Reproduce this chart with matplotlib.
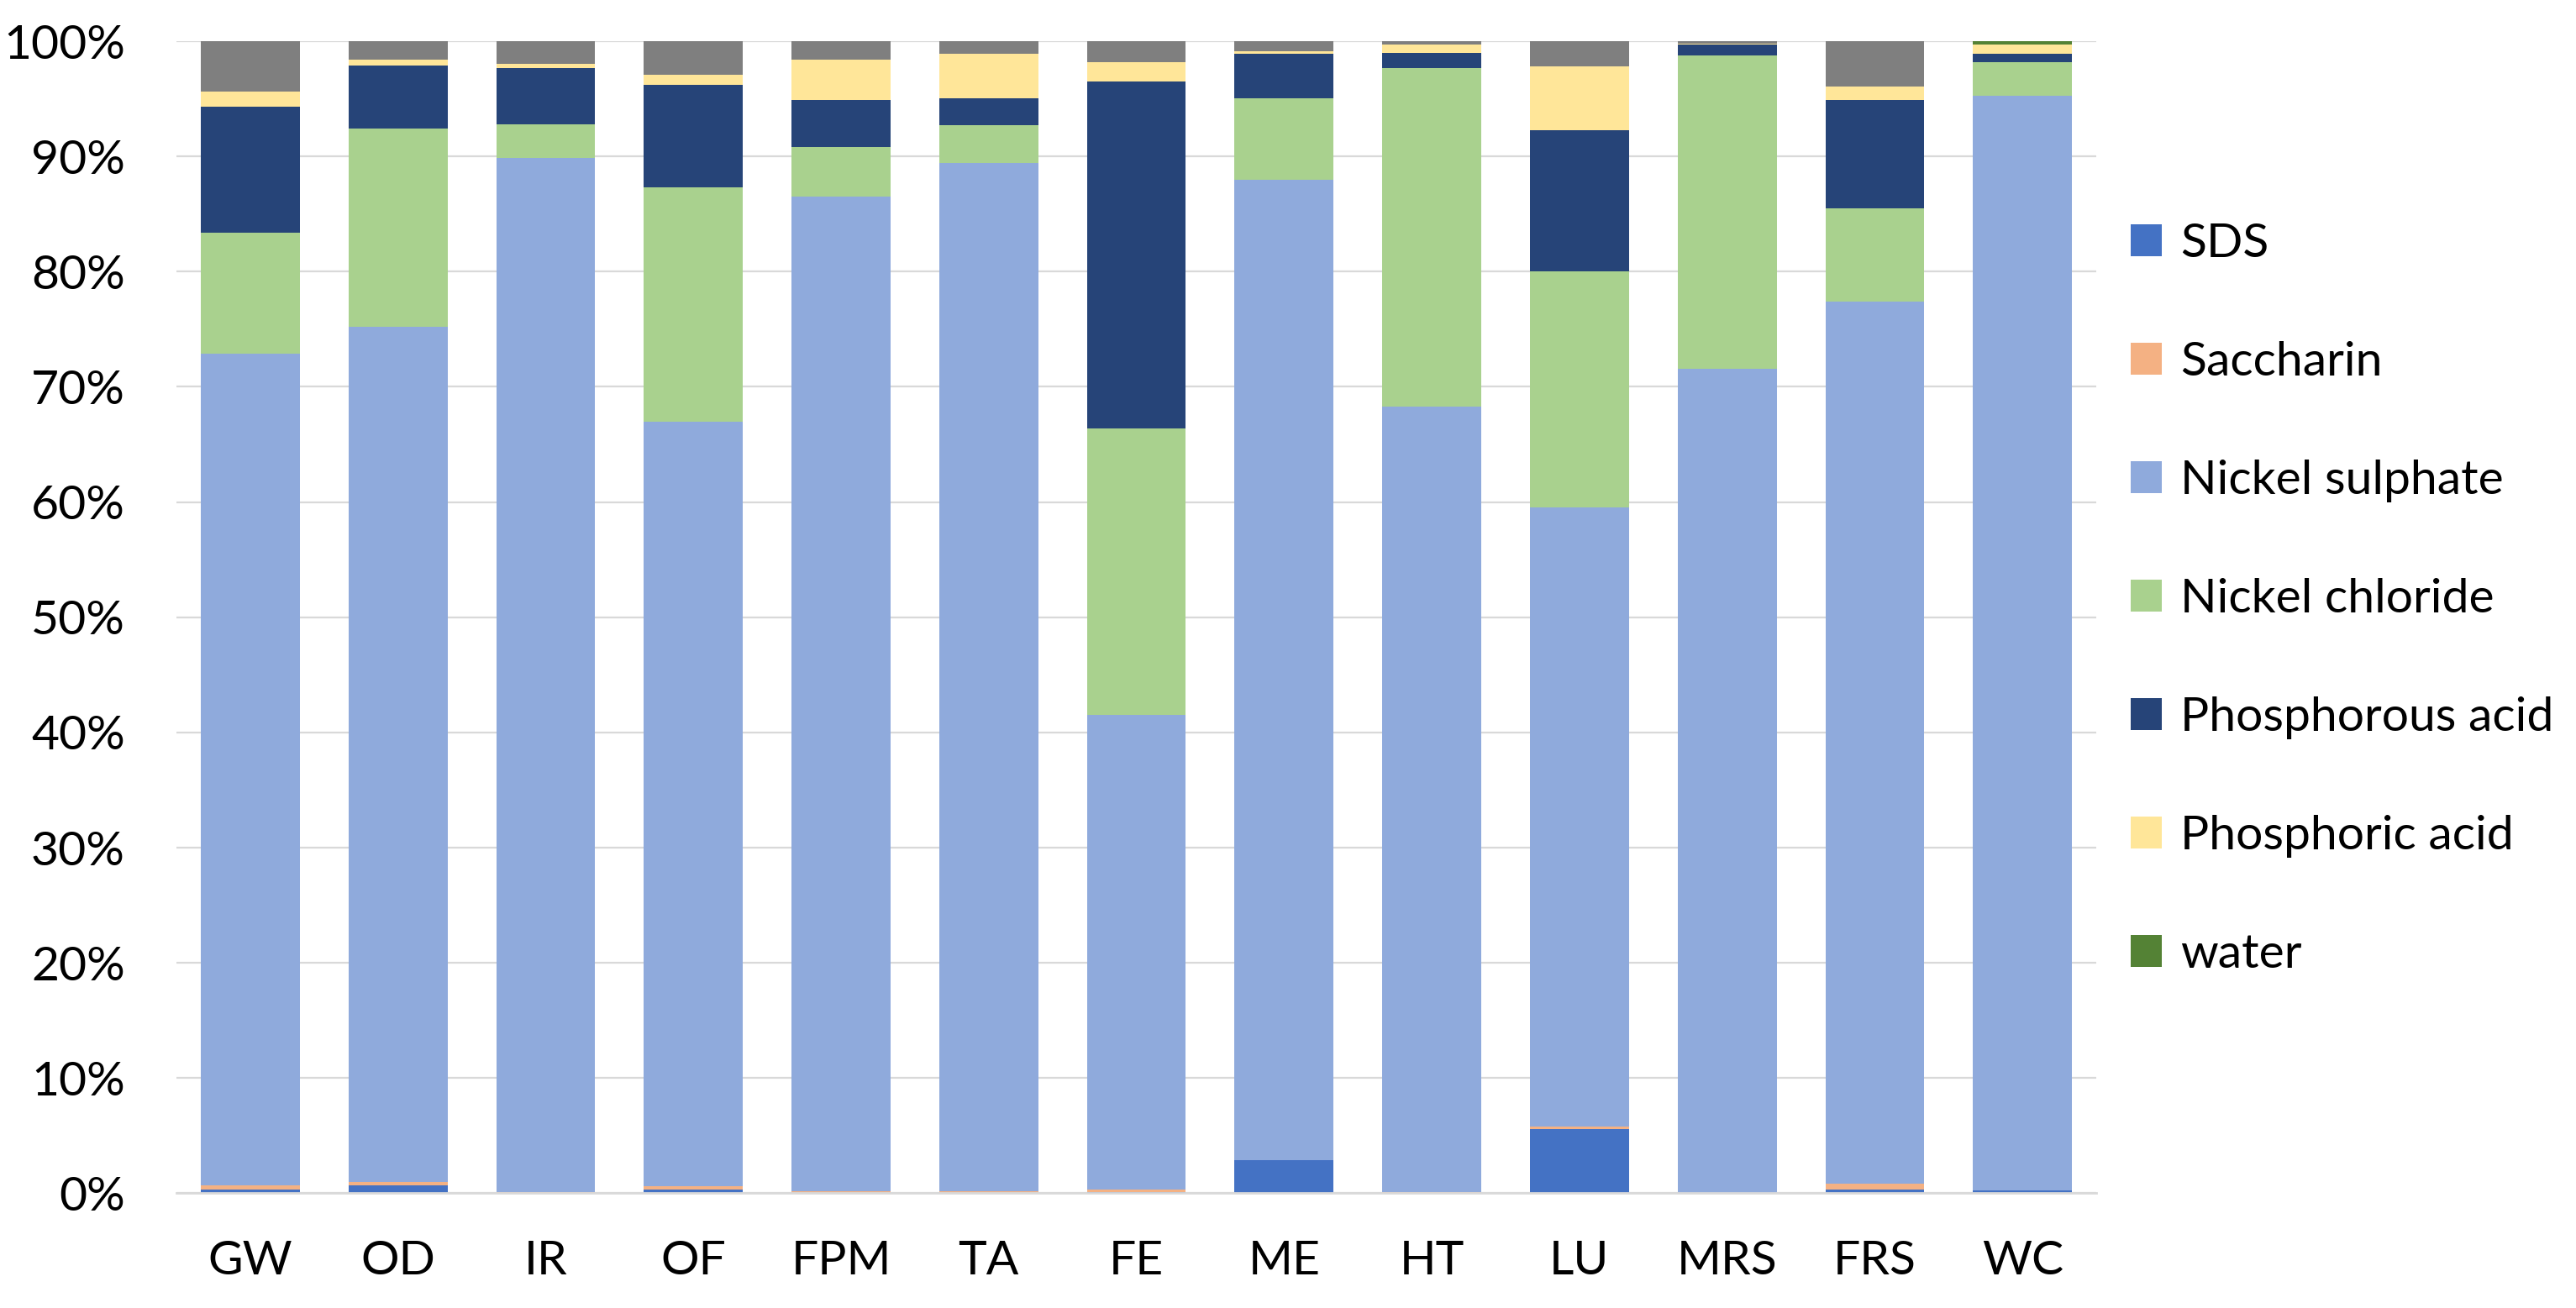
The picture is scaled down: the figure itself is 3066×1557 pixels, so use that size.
import matplotlib
matplotlib.use("Agg")
import matplotlib.pyplot as plt
from matplotlib.ticker import PercentFormatter
import numpy as np

plt.rcParams['font.family'] = ['Lato', 'DejaVu Sans']

# percent of each component per sample (bottom to top of the stack)
categories = ['GW', 'OD', 'IR', 'OF', 'FPM', 'TA', 'FE', 'ME', 'HT', 'LU', 'MRS', 'FRS', 'WC']
sds = [0.3, 0.7, 0.0, 0.35, 0.0, 0.0, 0.1, 2.9, 0.0, 5.6, 0.0, 0.3, 0.25]
saccharin = [0.4, 0.3, 0.1, 0.3, 0.2, 0.2, 0.2, 0.0, 0.1, 0.2, 0.0, 0.5, 0.0]
nickel_sulphate = [72.2, 74.2, 89.8, 66.35, 86.3, 89.2, 41.2, 85.1, 68.2, 53.7, 71.6, 76.6, 95.05]
nickel_chloride = [10.5, 17.2, 2.9, 20.3, 4.3, 3.3, 24.9, 7.05, 29.4, 20.5, 27.2, 8.1, 2.9]
phosphorous_acid = [10.9, 5.5, 4.9, 8.9, 4.1, 2.35, 30.1, 3.85, 1.3, 12.3, 0.9, 9.4, 0.7]
phosphoric_acid = [1.3, 0.5, 0.3, 0.9, 3.5, 3.85, 1.7, 0.25, 0.7, 5.5, 0.1, 1.2, 0.8]
water = [0.0, 0.0, 0.0, 0.0, 0.0, 0.0, 0.0, 0.0, 0.0, 0.0, 0.0, 0.0, 0.3]
other = [4.4, 1.6, 2.0, 2.9, 1.6, 1.1, 1.8, 0.85, 0.3, 2.2, 0.2, 3.9, 0.0]

series = [
    ('SDS', sds, '#4472C4'),
    ('Saccharin', saccharin, '#F4B183'),
    ('Nickel sulphate', nickel_sulphate, '#8FAADC'),
    ('Nickel chloride', nickel_chloride, '#A9D18E'),
    ('Phosphorous acid', phosphorous_acid, '#264478'),
    ('Phosphoric acid', phosphoric_acid, '#FFE699'),
    ('water', water, '#548235'),
    ('_other', other, '#7F7F7F'),
]

fig = plt.figure(figsize=(30.66, 15.57), dpi=100)
ax = fig.add_axes([0.0685, 0.0877, 0.7453, 0.8808])

x = np.arange(len(categories))
bottom = np.zeros(len(categories))
for name, vals, col in series:
    vals = np.array(vals)
    ax.bar(x, vals, 0.67, bottom=bottom, color=col, label=name, linewidth=0, zorder=2)
    bottom = bottom + vals

ax.set_xlim(-0.5, len(categories) - 0.5)
ax.set_ylim(0, 100)
ax.set_yticks(np.arange(0, 101, 10))
ax.yaxis.set_major_formatter(PercentFormatter(xmax=100, decimals=0))
ax.set_xticks(x)
ax.set_xticklabels(categories)

ax.grid(axis='y', color='#D9D9D9', linewidth=1.6, zorder=0)
ax.set_axisbelow(True)
for s in ['top', 'right', 'left']:
    ax.spines[s].set_visible(False)
ax.spines['bottom'].set_color('#D9D9D9')
ax.spines['bottom'].set_linewidth(2.0)
ax.tick_params(axis='both', length=0, labelsize=41, colors='black')
ax.tick_params(axis='y', pad=44)
ax.tick_params(axis='x', pad=40)

fig.legend(loc='center left', bbox_to_anchor=(0.827, 0.542), frameon=False,
           fontsize=41, handlelength=0.65, handleheight=0.65, handletextpad=0.4,
           labelspacing=1.58, borderpad=0, borderaxespad=0)

fig.savefig('out.png', dpi=100)
